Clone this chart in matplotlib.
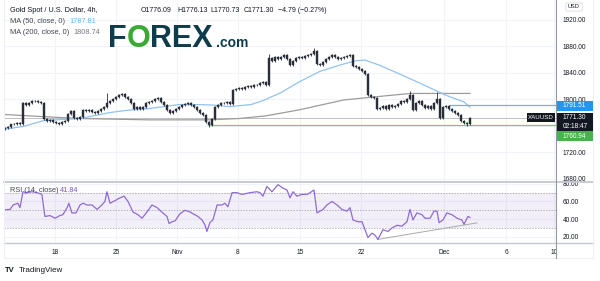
import numpy as np
import matplotlib.pyplot as plt
from matplotlib.lines import Line2D
from matplotlib.patches import Rectangle, FancyBboxPatch

plt.rcParams['font.family'] = ['Liberation Sans', 'DejaVu Sans']

# 4h closes, one candle every ~3 px of the original
closes = [1757, 1758, 1762, 1763, 1764, 1763, 1794, 1792, 1795, 1797,
          1798, 1796, 1795, 1771, 1768, 1769, 1766, 1765, 1763, 1766,
          1767, 1778, 1783, 1772, 1770, 1773, 1784, 1782, 1784, 1781,
          1779, 1782, 1786, 1789, 1795, 1797, 1800, 1803, 1806, 1808,
          1804, 1800, 1794, 1786, 1788, 1785, 1789, 1794, 1796, 1798,
          1800, 1802, 1796, 1792, 1784, 1779, 1782, 1786, 1789, 1791,
          1793, 1794, 1792, 1788, 1784, 1780, 1776, 1766, 1761, 1770,
          1788, 1792, 1795, 1794, 1796, 1793, 1814, 1816, 1817, 1815,
          1819, 1820, 1819, 1822, 1821, 1825, 1826, 1822, 1862, 1858,
          1863, 1860, 1864, 1866, 1861, 1852, 1858, 1862, 1864, 1862,
          1865, 1866, 1868, 1872, 1853, 1852, 1856, 1860, 1863, 1866,
          1864, 1860, 1862, 1864, 1865, 1866, 1850, 1848, 1846, 1842,
          1838, 1806, 1804, 1802, 1785, 1787, 1790, 1786, 1792, 1788,
          1790, 1793, 1797, 1796, 1800, 1806, 1784, 1795, 1797, 1792,
          1787, 1790, 1786, 1795, 1800, 1772, 1788, 1790, 1786, 1783,
          1780, 1777, 1768, 1764, 1762, 1771.30]
first_open = 1755
spike_high = {34: 1810, 88: 1868, 103: 1877, 135: 1813, 144: 1811}
spike_low = {68: 1758, 154: 1760}

ma50_bar = [0, 6, 13, 25, 35, 40, 48, 58, 65, 70, 75, 82, 86, 92, 98, 105,
            112, 117, 120, 125, 136, 147, 153, 155]
ma50_val = [1755, 1759, 1768, 1771, 1780, 1783, 1786, 1792, 1792, 1791, 1789,
            1792, 1798, 1810, 1826, 1842, 1852, 1858, 1859, 1851, 1829, 1806,
            1796, 1787.81]
ma200_bar = [0, 12, 25, 48, 68, 78, 87, 98, 113, 122, 135, 155]
ma200_val = [1777, 1774, 1771, 1769, 1769, 1771, 1775, 1784, 1799, 1803,
             1808.7, 1808.74]

rsi_bar = [0, 1.7, 2.7, 4.3, 5, 6, 7.3, 9, 10.7, 12.3, 13.3, 15, 16.7, 18.3,
           19.3, 20.7, 21.3, 22.3, 23.7, 25, 26, 27.3, 29, 30.7, 32.3, 33.3,
           34, 35, 36.7, 38.3, 39.7, 41, 42.7, 44.3, 45.7, 47.3, 49, 50.7,
           52.3, 54, 54.7, 55.7, 56.7, 58.3, 60, 61.7, 62.7, 64.3, 65.7, 66.7,
           67.3, 68.3, 69.3, 70.7, 72.3, 73.3, 74.3, 75.7, 77.3, 79, 81.7, 84,
           85, 86, 87.3, 89, 91, 92.7, 94, 95, 96, 97.3, 99, 100.7, 101.7, 103,
           104, 105, 106, 107.3, 109, 110.7, 112.3, 114, 115, 116, 117.7, 119,
           120, 121, 122.3, 123.3, 124.3, 126, 127.7, 129, 130.7, 132.3, 134,
           135, 136, 137.3, 139, 140, 141.7, 143, 144, 144.7, 146, 147.3, 149,
           150.7, 152.3, 153, 154.3, 155]
rsi_val = [50.6, 51, 56, 58, 53, 71, 70, 71, 70, 68, 43, 44, 41, 44, 45, 53,
           58, 47, 47, 56, 58, 56, 56, 51, 56, 60, 71, 58, 61, 64, 66, 60, 48,
           45, 41, 48, 56, 53, 48, 43, 35, 37, 38, 46, 50, 48, 46, 43, 39, 33,
           26, 36, 39, 56, 56, 58, 54, 70, 70, 68, 70, 71, 70, 66, 77, 71, 79,
           75, 73, 64, 71, 66, 68, 68, 70, 73, 47, 49, 51, 56, 60, 56, 51, 49,
           53, 39, 37, 37, 28, 19, 24, 22, 17, 28, 26, 30, 33, 32, 37, 51, 39,
           47, 45, 41, 41, 49, 49, 36, 39, 47, 45, 41, 39, 34, 43, 41.84]
rsi_trend_bar = [124.3, 157.3]
rsi_trend_val = [17, 35.7]

price_ticks = [1680, 1720, 1760, 1800, 1840, 1880, 1920]
rsi_ticks = [20, 40, 60, 80]
date_bar = [16.67, 37, 57.33, 77.67, 98.33, 118.67, 146.33, 167, 183.1]
date_lbl = ['18', '25', 'Nov', '8', '15', '22', 'Dec', '6', '10']

last_price = 1771.30
ray_blue = 1791.51
ray_blue_start = 148
ray_green = 1760.94
ray_green_start = 67.7

W, H = 600, 281
def fx(px): return px / W
def fy(py): return 1 - py / H

TXT = '#131722'
GRID = '#f0f3fa'
FS = 4.7      # scale labels
LFS = 5.3     # legend texts

fig = plt.figure(figsize=(6, 2.81), dpi=100)
fig.patch.set_facecolor('white')

ax = fig.add_axes([fx(4), fy(181.5), (556 - 4) / W, 181.5 / H])
rax = fig.add_axes([fx(4), fy(243), (556 - 4) / W, (243 - 182.5) / H])
xlim = (-0.33, 183.67)

# candles
x = np.arange(len(closes))
opens = [first_open] + closes[:-1]
for i, (o, c) in enumerate(zip(opens, closes)):
    hi = spike_high.get(i, max(o, c) + 1.5)
    lo = spike_low.get(i, min(o, c) - 1.5)
    ax.vlines(i, lo, hi, color='#2a2e39', lw=0.6, zorder=3)
    ax.bar(i, max(abs(c - o), 0.8), bottom=min(o, c), width=0.62,
           color='#2a2e39', edgecolor='#2a2e39', lw=0.3, zorder=3)

ax.plot(ma200_bar, ma200_val, color='#9c9c9c', lw=0.9, zorder=2)
ax.plot(ma50_bar, ma50_val, color='#90c2f5', lw=0.9, zorder=2)
ax.axhline(last_price, color='#b2b5be', lw=0.6, zorder=1)
ax.hlines(ray_blue, ray_blue_start, xlim[1], color='#64b5f6', lw=0.9, zorder=2)
ax.hlines(ray_green, ray_green_start, xlim[1], color='#81c784', lw=0.9, zorder=2)

ax.set_xlim(*xlim)
ax.set_ylim(1676.2, 1949.4)
ax.set_yticks(price_ticks)
# the 1760 label sits under the current-price box
ax.set_yticklabels(['' if v == 1760 else f'{v:.2f}' for v in price_ticks])
ax.set_xticks(date_bar)
ax.set_xticklabels([])
ax.yaxis.tick_right()
ax.tick_params(axis='both', length=0, labelsize=FS, labelcolor=TXT, pad=5)
ax.grid(True, color=GRID, lw=0.8)
ax.set_axisbelow(True)
for s in ax.spines.values():
    s.set_visible(False)

# RSI pane; white strip hides the lower half of the 1680 label like the original
rax.add_patch(Rectangle((fx(557), fy(243)), 36 / W, (243 - 182.3) / H,
                        transform=fig.transFigure, color='white', lw=0,
                        clip_on=False, zorder=0.3))
rax.axhspan(30, 70, color='#7e57c2', alpha=0.09, lw=0)
for lv in (70, 50, 30):
    rax.axhline(lv, color='#9598a1', lw=0.5, ls=(0, (2, 2)))
rax.plot(rsi_bar, rsi_val, color='#8e6bd4', lw=0.9, zorder=3)
rax.plot(rsi_trend_bar, rsi_trend_val, color='#a9a9a9', lw=0.7, zorder=2)
rax.set_xlim(*xlim)
rax.set_ylim(12.9, 81.5)
rax.set_yticks(rsi_ticks)
rax.set_yticklabels([f'{v:.2f}' for v in rsi_ticks])
rax.set_xticks(date_bar)
rax.set_xticklabels(date_lbl)
rax.yaxis.tick_right()
rax.tick_params(axis='both', length=0, labelsize=FS, labelcolor=TXT)
rax.tick_params(axis='y', pad=5)
rax.tick_params(axis='x', pad=4.5)
rax.grid(True, color=GRID, lw=0.8)
rax.set_axisbelow(True)
for s in rax.spines.values():
    s.set_visible(False)

# frame lines
def hline(y, x0, x1, c, lw):
    fig.add_artist(Line2D([fx(x0), fx(x1)], [fy(y), fy(y)], color=c, lw=lw))
def vline(xp, y0, y1, c, lw):
    fig.add_artist(Line2D([fx(xp), fx(xp)], [fy(y0), fy(y1)], color=c, lw=lw))

hline(181.8, 4, 593, '#c4c7ce', 1.3)
hline(243.3, 4, 593, '#c4c7ce', 1.0)
hline(258, 4, 593, '#eef0f3', 0.8)
vline(556, 0, 258, '#9598a1', 0.8)
vline(4, 0, 258, '#eef0f3', 0.8)
vline(593, 0, 258, '#eef0f3', 0.8)

# price scale labels
def box(x0, y0, x1, y1, color):
    fig.add_artist(Rectangle((fx(x0), fy(y1)), (x1 - x0) / W, (y1 - y0) / H,
                             transform=fig.transFigure, color=color, lw=0, zorder=4))

box(556.5, 101, 593, 110.5, '#2196f3')
fig.text(fx(563), fy(105.8), f'{ray_blue:.2f}', color='white', fontsize=FS,
         va='center', zorder=5)
box(527, 113, 555, 122, '#131722')
fig.text(fx(541), fy(117.5), 'XAUUSD', color='white', fontsize=FS - 0.3,
         va='center', ha='center', zorder=5)
box(556.5, 113, 593, 131, '#131722')
fig.text(fx(563), fy(117.5), f'{last_price:.2f}', color='white', fontsize=FS,
         va='center', zorder=5)
fig.text(fx(563), fy(126.5), '02:18:47', color='white', fontsize=FS,
         va='center', zorder=5)
box(556.5, 131, 593, 141, '#4caf50')
fig.text(fx(563), fy(136), f'{ray_green:.2f}', color='white', fontsize=FS,
         va='center', zorder=5)

fig.add_artist(FancyBboxPatch((fx(567), fy(10.5)), 14 / W, 7 / H,
                              boxstyle='round,pad=0.002', transform=fig.transFigure,
                              fc='white', ec='#d1d4dc', lw=0.5))
fig.text(fx(574), fy(7), 'USD', fontsize=FS - 0.6, color=TXT, ha='center', va='center')

# legend texts
fig.text(fx(10), fy(10), 'Gold Spot / U.S. Dollar, 4h,', fontsize=LFS, color=TXT, va='center')
for xp, s in [(141, 'O1776.09'), (177, 'H1776.13'), (210.5, 'L1770.73'),
              (244, 'C1771.30'), (277.5, '\u22124.79 (\u22120.27%)')]:
    fig.text(fx(xp), fy(10), s, fontsize=5.0, color=TXT, va='center')
fig.text(fx(10), fy(21.7), 'MA (50, close, 0)', fontsize=LFS, color='#434651', va='center')
fig.text(fx(69), fy(21.7), '1787.81', fontsize=LFS, color='#64b5f6', va='center')
fig.text(fx(10), fy(32), 'MA (200, close, 0)', fontsize=LFS, color='#434651', va='center')
fig.text(fx(73), fy(32), '1808.74', fontsize=LFS, color='#787b86', va='center')
fig.text(fx(10), fy(191), 'RSI (14, close)', fontsize=LFS, color='#434651', va='center')
fig.text(fx(60), fy(191), '41.84', fontsize=LFS, color='#7e57c2', va='center')

# FOREX.com logo
LOGO = '#0f3c4c'
fig.text(fx(108), fy(47), 'F', fontsize=22, fontweight='bold', color=LOGO, va='baseline')
fig.text(fx(126.5), fy(47), 'O', fontsize=22, fontweight='bold', color='#3aaa35', va='baseline')
fig.text(fx(150.5), fy(47), 'REX', fontsize=22, fontweight='bold', color=LOGO, va='baseline')
fig.text(fx(216), fy(47), '.com', fontsize=10, fontweight='bold', color=LOGO, va='baseline')

# TradingView footer
fig.text(fx(5), fy(270), 'TV', fontsize=5.5, fontweight='bold', color=TXT, va='center')
fig.text(fx(19), fy(270), 'TradingView', fontsize=5.8, color=TXT, va='center')

fig.savefig('out.png', dpi=100)
